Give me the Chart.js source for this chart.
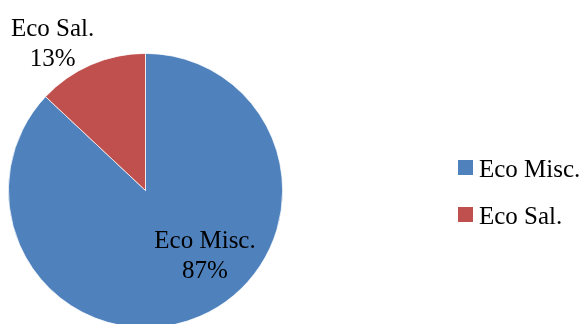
<!DOCTYPE html>
<html>
<head>
<meta charset="utf-8">
<script src="https://cdn.jsdelivr.net/npm/chart.js@4.4.0/dist/chart.umd.min.js"></script>
<style>
  html, body { margin: 0; padding: 0; background: #fff; overflow: hidden; }
  #pie { display: block; }
</style>
</head>
<body>
<canvas id="pie" width="581" height="332"></canvas>
<script>
const labels = ["Eco Misc.", "Eco Sal."];
const shares = [87, 13];
const colors = ["#4F81BD", "#C0504D"];

const FONT = "25px 'Liberation Serif', 'Times New Roman', serif";

// label spot per slice: angle offset from slice middle (deg) and radius factor
const LABEL_SPOT = [
  { dAngle: -18.5, r: 0.65 },
  { dAngle: -9, r: 1.265 },
];

const sliceLabels = {
  id: "sliceLabels",
  afterDatasetsDraw(chart) {
    const ctx = chart.ctx;
    const arcs = chart.getDatasetMeta(0).data;
    ctx.save();
    ctx.font = FONT;
    ctx.fillStyle = "#000";
    ctx.textAlign = "center";
    ctx.textBaseline = "middle";
    arcs.forEach((arc, i) => {
      const spot = LABEL_SPOT[i];
      const mid = (arc.startAngle + arc.endAngle) / 2 + spot.dAngle * Math.PI / 180;
      const dist = arc.outerRadius * spot.r;
      const x = arc.x + Math.cos(mid) * dist;
      const y = arc.y + Math.sin(mid) * dist;
      ctx.fillText(labels[i], x, y - 15);
      ctx.fillText(shares[i] + "%", x, y + 15);
    });
    ctx.restore();
  },
};

const sideLegend = {
  id: "sideLegend",
  afterDraw(chart) {
    const ctx = chart.ctx;
    ctx.save();
    ctx.font = FONT;
    ctx.textBaseline = "alphabetic";
    ctx.textAlign = "left";
    labels.forEach((name, i) => {
      const top = 160 + i * 47;
      ctx.fillStyle = colors[i];
      ctx.fillRect(458, top, 15, 15);
      ctx.fillStyle = "#000";
      ctx.fillText(name, 479, top + 17);
    });
    ctx.restore();
  },
};

new Chart(document.getElementById("pie"), {
  type: "pie",
  data: {
    labels,
    datasets: [{
      data: shares,
      backgroundColor: colors,
      borderColor: "#ffffff",
      borderWidth: 0.75,
    }],
  },
  options: {
    responsive: false,
    animation: false,
    layout: { padding: { left: 8, top: 53, right: 298, bottom: 4 } },
    plugins: {
      legend: { display: false },
      tooltip: { enabled: false },
    },
  },
  plugins: [sliceLabels, sideLegend],
});
</script>
</body>
</html>
